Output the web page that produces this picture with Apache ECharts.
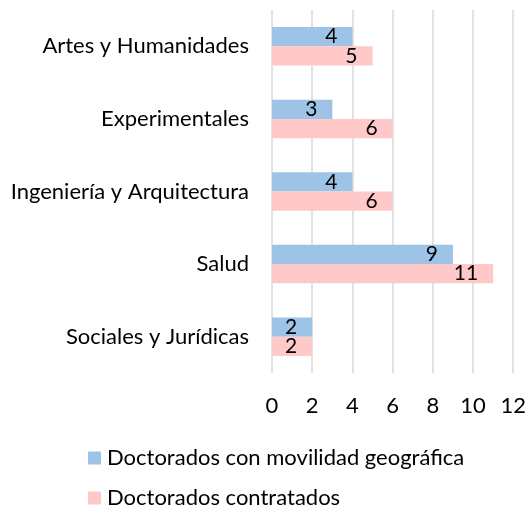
<!DOCTYPE html>
<html>
<head>
<meta charset="utf-8">
<script src="https://cdn.jsdelivr.net/npm/echarts@6/dist/echarts.min.js"></script>
<style>
  html, body { margin: 0; padding: 0; background: #fff; }
  #chart { width: 529px; height: 513px; }
</style>
</head>
<body>
<div id="chart"></div>
<script>
// Doctoral theses by field, top to bottom
const categories = ['Artes y Humanidades', 'Experimentales', 'Ingeniería y Arquitectura', 'Salud', 'Sociales y Jurídicas'];
const movilidad = [4, 3, 4, 9, 2];
const contratados = [5, 6, 6, 11, 2];
const seriesNames = ['Doctorados con movilidad geográfica', 'Doctorados contratados'];
const xTicks = { min: 0, max: 12, interval: 2 };

const FONT = 'Lato';
const FS = 22;
const chart = echarts.init(document.getElementById('chart'), null, { renderer: 'canvas' });

const labelStyle = {
  show: true,
  position: 'insideRight',
  distance: 15,
  color: '#000',
  fontFamily: FONT,
  fontSize: 21
};

// one legend row per series, stacked vertically
function legendRow(name, top) {
  return {
    orient: 'horizontal',
    left: 88,
    top: top,
    padding: 0,
    itemWidth: 13,
    itemHeight: 13,
    icon: 'rect',
    textStyle: { fontFamily: FONT, fontSize: FS, color: '#000', padding: [0, 0, 0, 1] },
    data: [name]
  };
}

chart.setOption({
  animation: false,
  textStyle: { fontFamily: FONT },
  grid: { left: 272, right: 9, top: 10, bottom: 140, containLabel: false },
  legend: [legendRow(seriesNames[0], 447), legendRow(seriesNames[1], 487)],
  xAxis: {
    type: 'value',
    min: xTicks.min,
    max: xTicks.max,
    interval: xTicks.interval,
    axisLine: { show: false },
    axisTick: { show: false },
    axisLabel: { color: '#000', fontFamily: FONT, fontSize: FS, margin: 22 },
    splitLine: { show: true, lineStyle: { color: '#d9d9d9', width: 1.5 } }
  },
  yAxis: {
    type: 'category',
    inverse: true,
    data: categories,
    axisLine: { show: false },
    axisTick: { show: false },
    axisLabel: { color: '#000', fontFamily: FONT, fontSize: FS, margin: 23 }
  },
  series: [
    {
      name: seriesNames[0],
      type: 'bar',
      data: movilidad,
      barGap: '0%',
      barCategoryGap: '47%',
      itemStyle: { color: '#9dc3e6' },
      label: labelStyle
    },
    {
      name: seriesNames[1],
      type: 'bar',
      data: contratados,
      barGap: '0%',
      barCategoryGap: '47%',
      itemStyle: { color: '#ffc9c9' },
      label: labelStyle
    }
  ]
});
</script>
</body>
</html>
